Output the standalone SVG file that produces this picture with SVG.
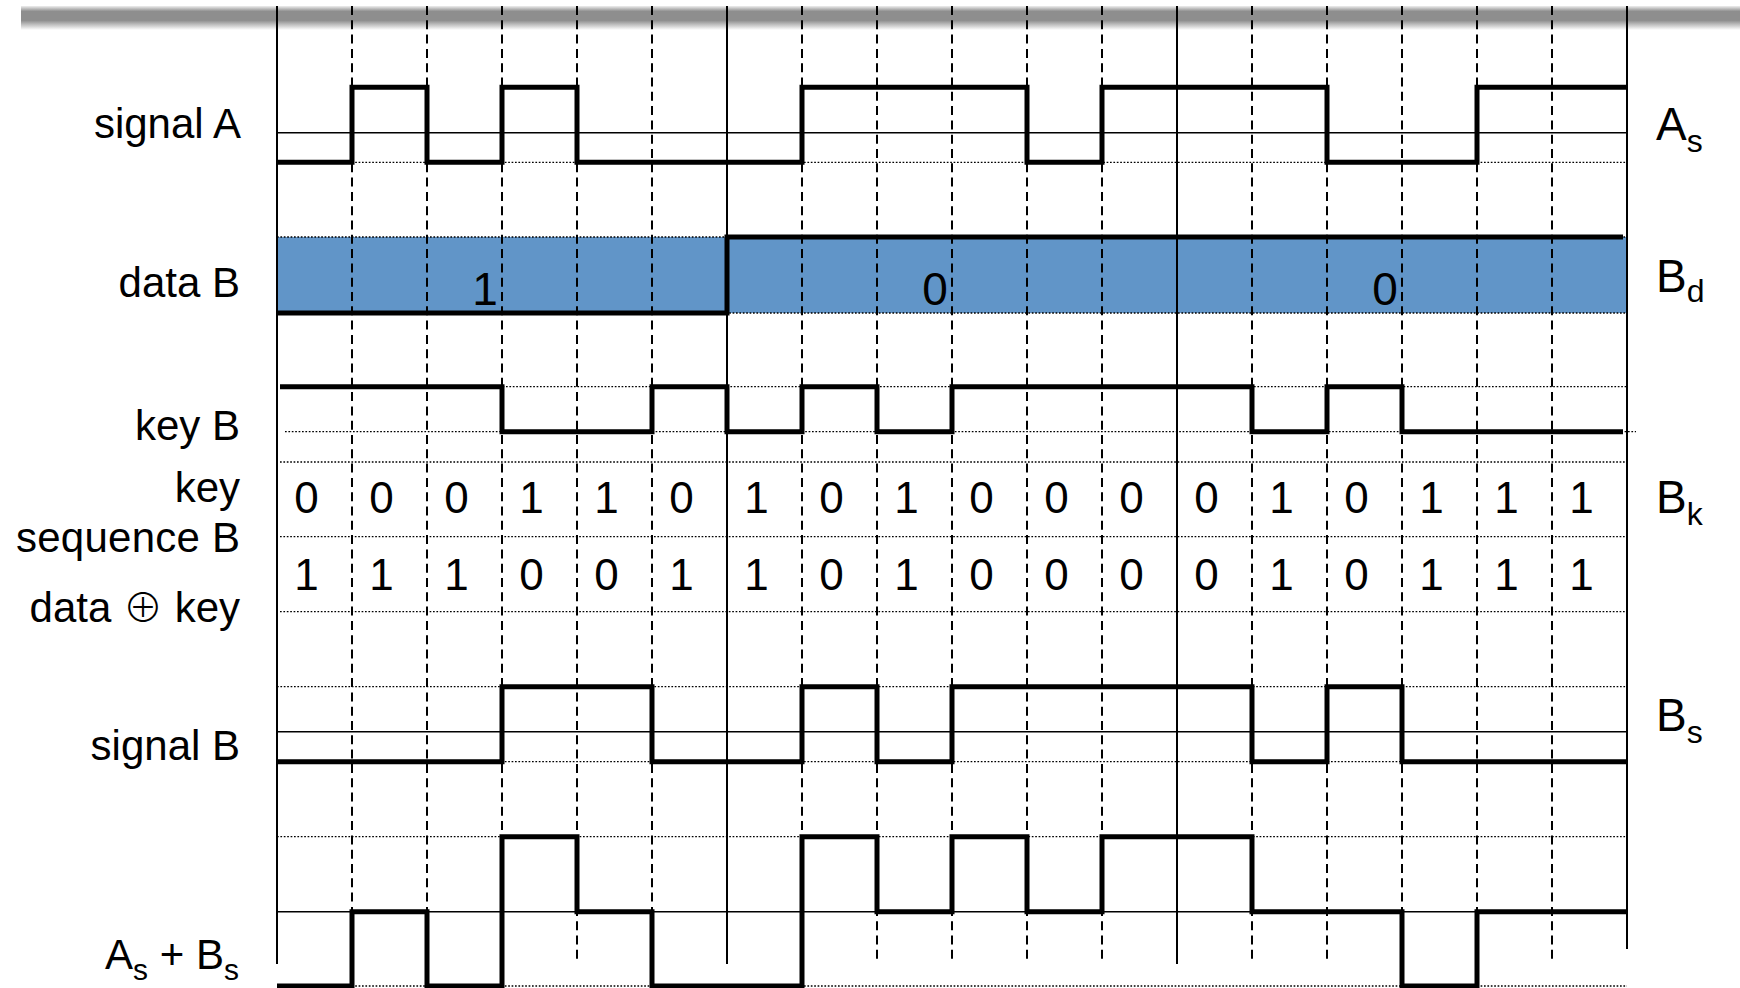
<svg xmlns="http://www.w3.org/2000/svg" width="1740" height="988" viewBox="0 0 1740 988">
<defs>
<linearGradient id="barShade" x1="0" y1="0" x2="0" y2="1">
<stop offset="0" stop-color="#8e8e8e" stop-opacity="0.15"/>
<stop offset="0.22" stop-color="#8e8e8e"/>
<stop offset="0.6" stop-color="#8e8e8e"/>
<stop offset="1" stop-color="#8e8e8e" stop-opacity="0"/>
</linearGradient>
<style>
.lbl{font-family:"Liberation Sans","Helvetica","Arial",sans-serif;font-size:42px;fill:#000;text-anchor:end}
.rl{font-family:"Liberation Sans","Helvetica","Arial",sans-serif;font-size:46px;fill:#000}
.dig{font-family:"Liberation Sans","Helvetica","Arial",sans-serif;font-size:44px;fill:#000;text-anchor:middle}
.dd{font-family:"Liberation Sans","Helvetica","Arial",sans-serif;font-size:46px;fill:#000;text-anchor:middle}
.xor{font-family:"Noto Sans CJK JP","DejaVu Sans",sans-serif;font-size:40px;font-weight:300}
.solid{stroke:#000;stroke-width:2;fill:none}
.dash{stroke:#000;stroke-width:2;stroke-dasharray:9 5.3;fill:none}
.dot{stroke:#000;stroke-width:1.3;stroke-dasharray:1.7 1.7;fill:none}
.mid{stroke:#000;stroke-width:1.5;fill:none}
.wave{stroke:#000;stroke-width:5;fill:none;stroke-linejoin:miter;stroke-linecap:butt}
</style>
</defs>

<rect id="topbar" x="21" y="6" width="1719" height="24" fill="url(#barShade)"/>

<g id="blue-band">
<rect x="277" y="237" width="1350" height="76" fill="#6195c8"/>
</g>

<g id="grid">
<path class="dot" d="M277,162.3H1627 M277,237H1627 M277,313H1627 M285,386.7H1627 M285,431.7H1636 M280,462H1627 M280,536.7H1627 M280,611.7H1627 M277,686.7H1627 M277,761.7H1627 M277,836.7H1627 M277,986H1627"/>
<path class="mid" d="M277,132.7H1627 M277,731.7H1627 M277,911.7H1627"/>
<path class="solid" d="M277,6V964 M727,6V964 M1177,6V964 M1627,6V949"/>
<path class="dash" d="M352,6V964 M427,6V964 M502,6V964 M577,6V964 M652,6V964 M802,6V964 M877,6V964 M952,6V964 M1027,6V964 M1102,6V964 M1252,6V964 M1327,6V964 M1402,6V964 M1477,6V964 M1552,6V964"/>
</g>

<g id="connectors">
<path id="wave-signal-a" class="wave" d="M277,162.3H352V87.3H427V162.3H502V87.3H577V162.3H802V87.3H1027V162.3H1102V87.3H1327V162.3H1477V87.3H1627"/>
<path id="wave-data-b" class="wave" d="M277,313H727V237H1623"/>
<path id="wave-key-b" class="wave" d="M280,386.7H502V431.7H652V386.7H727V431.7H802V386.7H877V431.7H952V386.7H1252V431.7H1327V386.7H1402V431.7H1623"/>
<path id="wave-signal-b" class="wave" d="M277,761.7H502V686.7H652V761.7H802V686.7H877V761.7H952V686.7H1252V761.7H1327V686.7H1402V761.7H1627"/>
<path id="wave-sum" class="wave" d="M277,986H352V911.7H427V986H502V836.7H577V911.7H652V986H802V836.7H877V911.7H952V836.7H1027V911.7H1102V836.7H1252V911.7H1402V986H1477V911.7H1627"/>
</g>

<g id="signal-a">
<text class="lbl" x="241" y="137.5">signal A</text>
<text class="rl" x="1656" y="140">A<tspan dy="12" font-size="32">s</tspan></text>
</g>

<g id="data-b">
<text class="lbl" x="240" y="297">data B</text>
<text class="dd" x="485" y="305">1</text>
<text class="dd" x="935" y="305">0</text>
<text class="dd" x="1385" y="305">0</text>
<text class="rl" x="1656" y="292">B<tspan dy="10" font-size="32">d</tspan></text>
</g>

<g id="key-b">
<text class="lbl" x="240" y="440">key B</text>
</g>

<g id="key-sequence-b">
<text class="lbl" x="240" y="502">key</text>
<text class="lbl" x="240" y="552" textLength="224">sequence B</text>
<text class="rl" x="1656" y="513">B<tspan dy="12" font-size="32">k</tspan></text>
<text class="dig" y="513"><tspan x="306.5">0</tspan><tspan x="381.5">0</tspan><tspan x="456.5">0</tspan><tspan x="531.5">1</tspan><tspan x="606.5">1</tspan><tspan x="681.5">0</tspan><tspan x="756.5">1</tspan><tspan x="831.5">0</tspan><tspan x="906.5">1</tspan><tspan x="981.5">0</tspan><tspan x="1056.5">0</tspan><tspan x="1131.5">0</tspan><tspan x="1206.5">0</tspan><tspan x="1281.5">1</tspan><tspan x="1356.5">0</tspan><tspan x="1431.5">1</tspan><tspan x="1506.5">1</tspan><tspan x="1581.5">1</tspan></text>
</g>

<g id="data-xor-key">
<text class="lbl" x="240" y="622">data <tspan class="xor">⊕</tspan> key</text>
<text class="dig" y="590"><tspan x="306.5">1</tspan><tspan x="381.5">1</tspan><tspan x="456.5">1</tspan><tspan x="531.5">0</tspan><tspan x="606.5">0</tspan><tspan x="681.5">1</tspan><tspan x="756.5">1</tspan><tspan x="831.5">0</tspan><tspan x="906.5">1</tspan><tspan x="981.5">0</tspan><tspan x="1056.5">0</tspan><tspan x="1131.5">0</tspan><tspan x="1206.5">0</tspan><tspan x="1281.5">1</tspan><tspan x="1356.5">0</tspan><tspan x="1431.5">1</tspan><tspan x="1506.5">1</tspan><tspan x="1581.5">1</tspan></text>
</g>

<g id="signal-b">
<text class="lbl" x="240" y="760">signal B</text>
<text class="rl" x="1656" y="731">B<tspan dy="12" font-size="32">s</tspan></text>
</g>

<g id="sum-signal">
<text class="lbl" x="239" y="969">A<tspan dy="11" font-size="30">s</tspan><tspan dy="-11"> + B</tspan><tspan dy="11" font-size="30">s</tspan></text>
</g>
</svg>
